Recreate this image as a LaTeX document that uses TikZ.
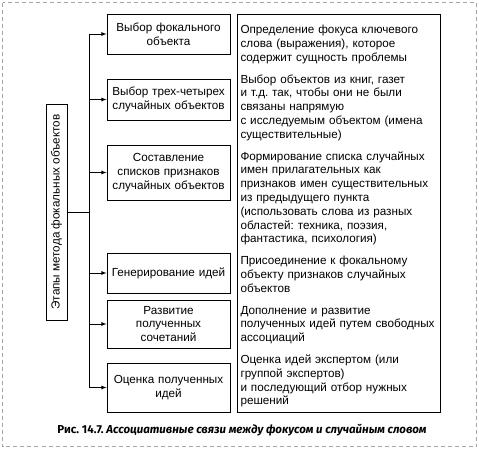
\documentclass[tikz,border=0pt]{standalone}
\usepackage{fontspec}
\setmainfont{Liberation Sans}
\newfontfamily\capfont{Fira Sans}
\frenchspacing

\begin{document}
\begin{tikzpicture}[x=1pt, y=-1pt]
\tikzset{ >=latex, font=\fontsize{11.7}{13.8}\selectfont,
  stagebox/.style={draw, line width=0.9pt, minimum width=123pt, text width=117pt, align=center, inner sep=2pt},
  descbox/.style={draw, line width=0.9pt, minimum width=203pt, minimum height=398pt, text width=196pt, align=left, inner xsep=3.5pt, inner ysep=3pt},
  link/.style={line width=0.8pt},
}

\useasboundingbox (0,0) rectangle (479,448);
%\draw [lightgray, dashed] (0,0) grid [step=20] (479,448);

% frame
\draw [gray!70, line width=0.8pt, dash pattern=on 4pt off 3pt] (2.5,2.5) rectangle (476.5,446.5);

\node [draw, line width=0.9pt, rotate=90, minimum width=216pt, minimum height=21pt, inner sep=0pt] (stages) at (56.5,212) {Этапы метода фокальных объектов};

\node [stagebox, minimum height=40pt] (B1) at (168.5,34)    {Выбор фокального\\объекта};
\node [stagebox, minimum height=41pt] (B2) at (168.5,99.5)  {Выбор трех-четырех\\случайных объектов};
\node [stagebox, minimum height=55pt] (B3) at (168.5,172.5) {Составление\\списков признаков\\случайных объектов};
\node [stagebox, minimum height=40pt] (B4) at (168.5,273)   {Генерирование идей};
\node [stagebox, minimum height=48pt] (B5) at (168.5,324)   {Развитие\\полученных\\сочетаний};
\node [stagebox, minimum height=49pt] (B6) at (168.5,387.5) {Оценка полученных\\идей};

\node [descbox] (D) at (338.5,213) {%
\rule{0pt}{15pt}Определение фокуса ключевого\\слова (выражения), которое\\содержит сущность проблемы\\[8pt]
Выбор объектов из книг, газет\\и т.д. так, чтобы они не были\\связаны напрямую\\с исследуемым объектом (имена\\существительные)\\[8pt]
Формирование списка случайных\\имен прилагательных как\\признаков имен существительных\\из предыдущего пункта\\(использовать слова из разных\\областей: техника, поэзия,\\фантастика, психология)\\[8pt]
Присоединение к фокальному\\объекту признаков случайных\\объектов\\[8pt]
Дополнение и развитие\\полученных идей путем свободных\\ассоциаций\\[8pt]
Оценка идей экспертом (или\\группой экспертов)\\и последующий отбор нужных\\решений};

% trunk
\coordinate (J) at (89,212);
\draw [link] (stages.south) -- (J);
\draw [link] (J |- B1.west) -- (J |- B6.west);
\foreach \b in {B1,B2,B3,B4,B5,B6}
  \draw [link, ->] (J |- \b.west) -- (\b.west);

\node [anchor=base, font=\capfont\fontsize{11.5}{13}\selectfont\bfseries] (cap) at (242,433)
  {Рис. 14.7. \textit{Ассоциативные связи между фокусом и случайным словом}};

\end{tikzpicture}
\end{document}
